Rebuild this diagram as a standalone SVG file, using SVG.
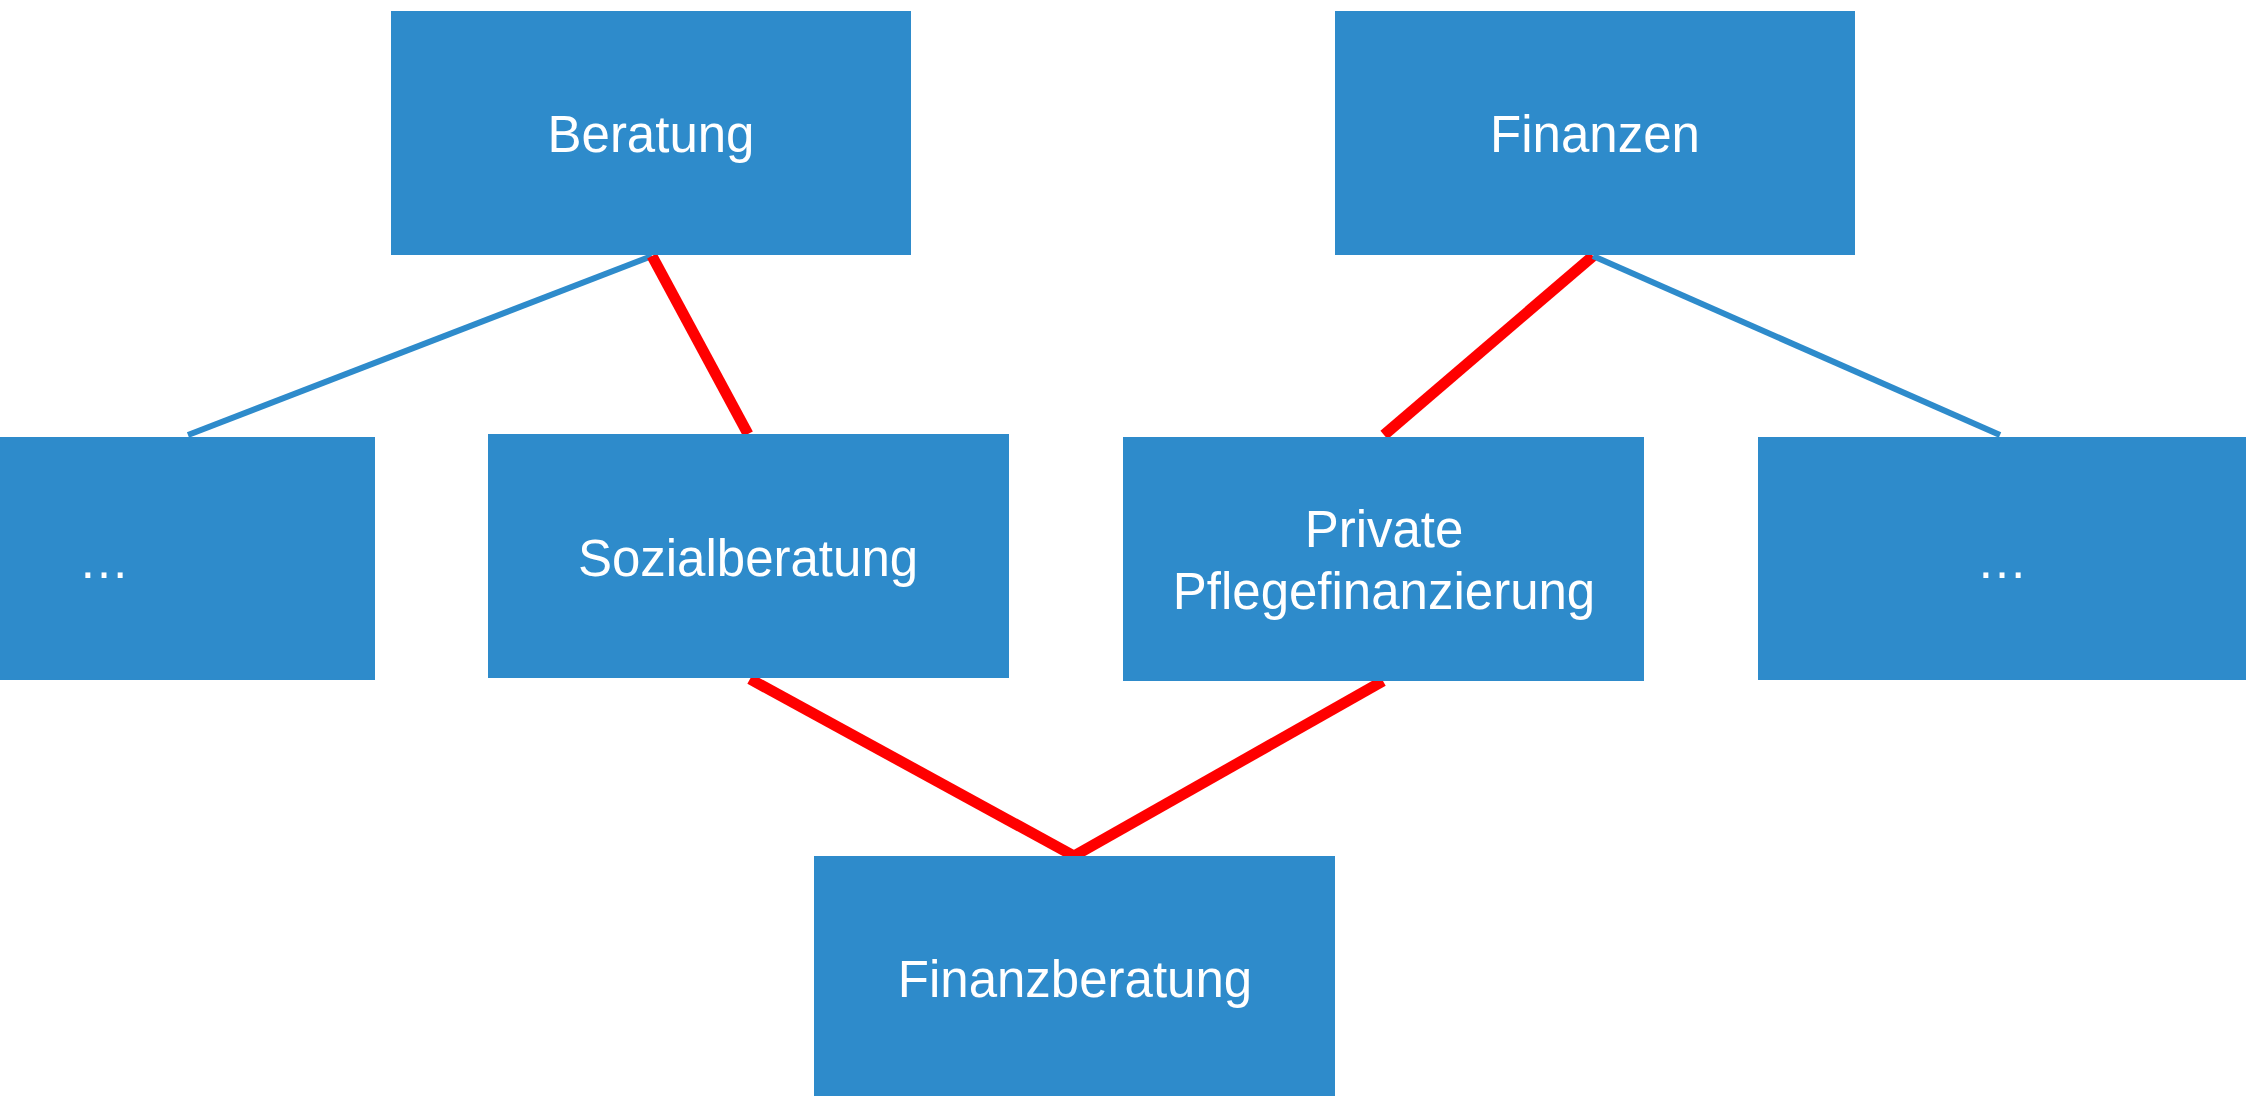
<svg xmlns="http://www.w3.org/2000/svg" width="2246" height="1096" viewBox="0 0 2246 1096">
<style>
.box{fill:#2E8BCB}
.lbl{fill:#FFFFFF;font-family:"Liberation Sans",Arial,sans-serif;font-size:51px;text-anchor:middle}
.blue{stroke:#2E8BCB;stroke-width:6;fill:none}
.red{stroke:#FF0000;stroke-width:11;fill:none}
</style>
<rect width="2246" height="1096" fill="#FFFFFF"/>
<g id="connectors">
<line class="blue" x1="652" y1="256" x2="188" y2="435"/>
<line class="red" x1="652" y1="256" x2="748" y2="434"/>
<line class="red" x1="1593" y1="256" x2="1384" y2="435"/>
<line class="blue" x1="1593" y1="256" x2="2000" y2="435"/>
<line class="red" x1="750" y1="679" x2="1074" y2="856"/>
<line class="red" x1="1383" y1="681" x2="1074" y2="856"/>
</g>
<g id="beratung">
<rect class="box" x="391" y="11" width="520" height="244"/>
<text class="lbl" x="651" y="152">Beratung</text>
</g>
<g id="finanzen">
<rect class="box" x="1335" y="11" width="520" height="244"/>
<text class="lbl" x="1595" y="152">Finanzen</text>
</g>
<g id="dots-left">
<rect class="box" x="-145" y="437" width="520" height="243"/>
<text class="lbl" x="104" y="578">…</text>
</g>
<g id="sozialberatung">
<rect class="box" x="488" y="434" width="521" height="244"/>
<text class="lbl" x="748" y="576">Sozialberatung</text>
</g>
<g id="private-pflegefinanzierung">
<rect class="box" x="1123" y="437" width="521" height="244"/>
<text class="lbl" x="1384" y="547">Private</text>
<text class="lbl" x="1384" y="609">Pflegefinanzierung</text>
</g>
<g id="dots-right">
<rect class="box" x="1758" y="437" width="520" height="243"/>
<text class="lbl" x="2002" y="578">…</text>
</g>
<g id="finanzberatung">
<rect class="box" x="814" y="856" width="521" height="244"/>
<text class="lbl" x="1075" y="997">Finanzberatung</text>
</g>
</svg>
